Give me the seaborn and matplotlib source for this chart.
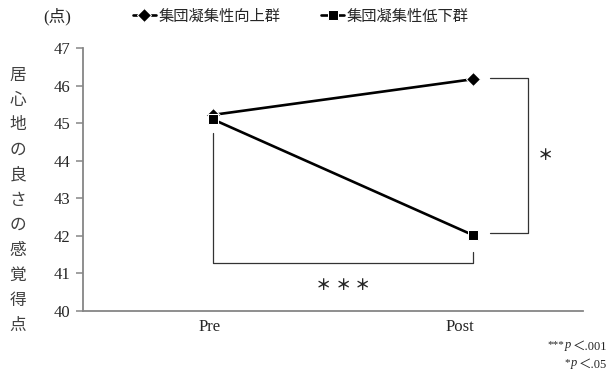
import matplotlib
matplotlib.use("Agg")
import matplotlib.pyplot as plt
import pandas as pd
import seaborn as sns

# Scores of the sense of comfort (居心地の良さの感覚得点) by group, Pre / Post
times = ["Pre", "Post"]
groups = ["集団凝集性向上群", "集団凝集性低下群"]
up_scores = [45.22, 46.17]
down_scores = [45.10, 42.02]
y_ticks = [40, 41, 42, 43, 44, 45, 46, 47]
ylabel_chars = list("居心地の良さの感覚得点")

df = pd.DataFrame({
    "t": list(range(len(times))) * 2,
    "score": up_scores + down_scores,
    "group": [groups[0]] * len(times) + [groups[1]] * len(times),
})

sns.set_theme(style="white")
plt.rcParams["font.family"] = ["Liberation Serif", "Noto Sans CJK JP"]
plt.rcParams["mathtext.fontset"] = "custom"
plt.rcParams["mathtext.it"] = "Liberation Serif:italic"

W, H = 611, 374
fig = plt.figure(figsize=(W / 100, H / 100), dpi=100)
ax = fig.add_axes([83 / W, (H - 311) / H, 500 / W, 263 / H])

sns.lineplot(
    data=df, x="t", y="score", hue="group", style="group",
    palette=["black", "black"], markers={groups[0]: "D", groups[1]: "s"},
    dashes=False, linewidth=1.9, markersize=7, ax=ax, legend=True,
)

ax.set_xlim(-0.5, 1.423)
ax.set_ylim(40, 47)
ax.set_yticks(y_ticks)
ax.set_yticklabels([str(v) for v in y_ticks], fontsize=12)
ax.set_xticks([0.469])
ax.set_xticklabels([""])
ax.set_xticks([-0.015, 0.95], minor=True)
ax.set_xticklabels(times, minor=True, fontsize=12)
ax.tick_params(axis="x", which="minor", length=0, pad=6)
ax.tick_params(axis="x", which="major", length=4, width=1.1, color="#868686", direction="out")
ax.tick_params(axis="y", length=5, width=1.1, color="#868686", direction="out", pad=4, left=True)
ax.set_xlabel("")
ax.set_ylabel("")
for s in ["top", "right"]:
    ax.spines[s].set_visible(False)
for s in ["left", "bottom"]:
    ax.spines[s].set_color("#868686")
    ax.spines[s].set_linewidth(1.3)

# Significance brackets
star = dict(fontsize=11, ha="center", va="center", family=["Noto Sans CJK JP"],
            weight="bold")
bk = dict(color="#333333", lw=0.9, clip_on=False)
ax.plot([1.065, 1.21, 1.21, 1.065], [46.2, 46.2, 42.07, 42.07], **bk)
ax.text(1.28, 44.14, "＊", **star)
ax.plot([0.0, 0.0, 1.0, 1.0], [44.75, 41.27, 41.27, 41.58], **bk)
for dx in (-0.075, 0.0, 0.075):
    ax.text(0.5 + dx, 40.69, "＊", **star)

# Legend across the top
handles, labels = ax.get_legend_handles_labels()
ax.legend(handles, labels, loc="center left", ncol=2, frameon=False,
          bbox_to_anchor=(133 / W, 1 - 16 / H), bbox_transform=fig.transFigure,
          borderpad=0, borderaxespad=0, handlelength=1.5, handletextpad=0.15,
          columnspacing=2.7, prop={"family": ["Noto Sans CJK JP"], "size": 11})

fig.text(57 / W, 1 - 17 / H, "(点)", fontsize=12, ha="center", va="center",
         family=["Liberation Serif", "Noto Sans CJK JP"])

# Vertical axis title, one character per line
for i, ch in enumerate(ylabel_chars):
    fig.text(18 / W, 1 - (75 + i * 25) / H, ch, fontsize=12, ha="center",
             va="center", color="#404040", family=["Noto Sans CJK JP"])

# Significance note, right-aligned and built leftwards
nfont = ["Liberation Serif", "Noto Sans CJK JP"]
for y_px, stars, thr in [(350, "***", "＜.001"), (368, "*", "＜.05")]:
    t3 = fig.text(607 / W, 1 - y_px / H, thr, fontsize=9, ha="right",
                  va="baseline", family=nfont)
    t2 = ax.annotate("$p$", xy=(0, 0), xycoords=t3, fontsize=9, ha="right",
                     va="bottom")
    ax.annotate(stars, xy=(0, 1), xycoords=t2, fontsize=8, ha="right",
                va="top")

fig.savefig("out.png", dpi=100)
